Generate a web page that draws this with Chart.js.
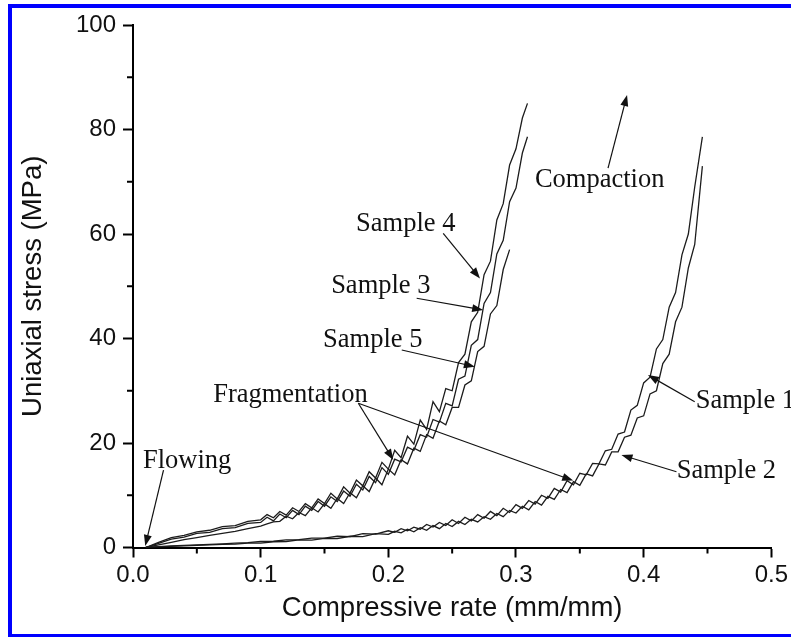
<!DOCTYPE html>
<html>
<head>
<meta charset="utf-8">
<script src="https://cdn.jsdelivr.net/npm/chart.js@4.4.0/dist/chart.umd.min.js"></script>
<style>
  html, body { margin: 0; padding: 0; background: #fff; overflow: hidden; }
  canvas { display: block; }
</style>
</head>
<body>
<canvas id="myChart" width="791" height="637"></canvas>
<script>
// strain values (mm/mm) for the left group of curves (samples 3, 4, 5)
const leftX = [
  0.01, 0.02, 0.03, 0.04, 0.05, 0.06, 0.07, 0.08, 0.09, 0.10,
  0.105, 0.11, 0.115, 0.12, 0.125, 0.13, 0.135, 0.14, 0.145, 0.15,
  0.155, 0.16, 0.165, 0.17, 0.175, 0.18, 0.185, 0.19, 0.195, 0.20,
  0.205, 0.21, 0.215, 0.22, 0.225, 0.23, 0.235, 0.24, 0.245, 0.25,
  0.255, 0.26, 0.265, 0.27, 0.275, 0.28, 0.285, 0.29, 0.295, 0.30,
  0.305, 0.309
];
const sample4 = [
  0, 1.0, 1.9, 2.3, 3.0, 3.3, 4.0, 4.2, 5.0, 5.3,
  6.3, 5.7, 6.9, 6.2, 7.6, 6.9, 8.4, 7.6, 9.3, 8.4,
  10.4, 9.3, 11.6, 10.4, 12.9, 11.8, 14.5, 13.3, 16.3, 15.0,
  18.6, 17.2, 21.3, 19.8, 24.4, 22.6, 27.9, 26.0, 30.4, 30.0,
  35.4, 37.0, 43.2, 45.0, 52.2, 54.8, 62.7, 65.8, 73.2, 76.3,
  82.2, 85.0
];
const sample3 = [
  0, 0.8, 1.6, 2.0, 2.7, 2.9, 3.6, 3.8, 4.6, 4.8,
  5.8, 5.1, 6.4, 5.7, 7.1, 6.3, 7.9, 7.1, 8.8, 7.9,
  9.7, 8.8, 10.8, 9.8, 12.1, 11.0, 13.6, 12.4, 15.3, 14.0,
  16.9, 16.4, 19.2, 18.6, 21.6, 21.1, 24.5, 24.0, 27.6, 27.1,
  32.2, 32.8, 38.7, 39.8, 46.7, 48.8, 56.2, 58.8, 66.2, 68.8,
  75.5, 78.6
];
const sample5 = [
  0, 0.5, 1.0, 1.5, 1.9, 2.3, 2.7, 3.1, 3.6, 4.1,
  4.5, 4.9, 5.0, 6.0, 5.5, 6.7, 6.1, 7.6, 6.8, 8.4,
  7.5, 9.4, 8.4, 10.5, 9.5, 11.8, 10.7, 13.3, 12.0, 15.0,
  13.9, 16.8, 16.0, 19.0, 18.4, 21.6, 20.9, 24.2, 23.5, 26.8,
  26.8, 31.1, 31.9, 37.5, 38.5, 44.7, 46.3, 53.2, 57.0
];

// strain values for the right group (samples 1, 2)
const rightX = [
  0.01, 0.02, 0.03, 0.04, 0.05, 0.06, 0.07, 0.08, 0.09, 0.10,
  0.11, 0.12, 0.13, 0.14, 0.15, 0.16, 0.17, 0.18, 0.19, 0.20,
  0.205, 0.21, 0.215, 0.22, 0.225, 0.23, 0.235, 0.24, 0.245, 0.25,
  0.255, 0.26, 0.265, 0.27, 0.275, 0.28, 0.285, 0.29, 0.295, 0.30,
  0.305, 0.31, 0.315, 0.32, 0.325, 0.33, 0.335, 0.34, 0.345, 0.35,
  0.355, 0.36, 0.365, 0.37, 0.375, 0.38, 0.385, 0.39, 0.395, 0.40,
  0.405, 0.41, 0.415, 0.42, 0.425, 0.43, 0.435, 0.44, 0.446
];
const sample1 = [
  0, 0.15, 0.3, 0.4, 0.5, 0.6, 0.7, 0.85, 0.95, 1.15,
  1.2, 1.45, 1.5, 1.8, 1.8, 2.15, 2.1, 2.65, 2.55, 3.2,
  2.9, 3.6, 3.2, 3.9, 3.5, 4.4, 3.9, 4.8, 4.2, 5.3,
  4.6, 5.8, 5.1, 6.3, 5.6, 6.9, 6.1, 7.5, 6.7, 8.2,
  7.5, 9.0, 8.3, 10.0, 9.4, 11.3, 10.6, 12.8, 12.0, 14.2,
  13.9, 16.1, 16.0, 18.5, 18.8, 21.7, 22.1, 26.3, 27.2, 31.5,
  32.6, 38.0, 39.8, 46.0, 48.8, 56.0, 60.0, 69.0, 78.6
];
const sample2 = [
  0, 0.1, 0.2, 0.3, 0.4, 0.5, 0.6, 0.65, 0.85, 0.85,
  1.1, 1.15, 1.45, 1.4, 1.75, 1.7, 2.15, 2.1, 2.65, 2.5,
  3.1, 2.8, 3.5, 3.0, 3.8, 3.3, 4.2, 3.6, 4.6, 4.0,
  5.0, 4.4, 5.4, 4.9, 5.9, 5.4, 6.5, 5.9, 7.1, 6.6,
  7.9, 7.2, 8.8, 8.1, 9.8, 9.2, 11.1, 10.5, 12.6, 11.9,
  14.1, 13.7, 16.0, 15.8, 18.3, 18.3, 21.1, 21.5, 24.8, 25.2,
  29.4, 30.0, 35.2, 37.0, 43.2, 46.0, 53.5, 58.0, 73.0
];

// minor tick positions
const xMinor = [0.05, 0.15, 0.25, 0.35, 0.45];
const yMinor = [10, 30, 50, 70, 90];

// annotation texts (left, baseline) and arrows, in data units
const notes = [
  { text: "Compaction", x: 0.3148, y: 69.0 },
  { text: "Sample 4", x: 0.1747, y: 60.6 },
  { text: "Sample 3", x: 0.1552, y: 48.7 },
  { text: "Sample 5", x: 0.1489, y: 38.4 },
  { text: "Fragmentation", x: 0.0628, y: 27.85 },
  { text: "Flowing", x: 0.0078, y: 15.2 },
  { text: "Sample 1", x: 0.4408, y: 26.7 },
  { text: "Sample 2", x: 0.4259, y: 13.3 }
];
const arrows = [
  [0.3721, 72.6, 0.3870, 86.6],
  [0.2430, 60.1, 0.2718, 51.5],
  [0.2222, 47.7, 0.2743, 45.45],
  [0.2105, 37.8, 0.2678, 34.6],
  [0.1765, 27.6, 0.2039, 16.75],
  [0.1765, 27.6, 0.3448, 12.8],
  [0.0239, 14.8, 0.0096, 0.3],
  [0.4400, 27.9, 0.4034, 33.0],
  [0.4257, 14.5, 0.3826, 17.7]
];

function pairs(xs, ys) {
  return ys.map((v, i) => ({ x: xs[i], y: v }));
}

function drawArrow(ctx, x1, y1, x2, y2) {
  const a = Math.atan2(y2 - y1, x2 - x1);
  const len = 11, w = 4;
  ctx.beginPath();
  ctx.moveTo(x1, y1);
  ctx.lineTo(x2 - Math.cos(a) * len * 0.7, y2 - Math.sin(a) * len * 0.7);
  ctx.stroke();
  ctx.beginPath();
  ctx.moveTo(x2, y2);
  ctx.lineTo(x2 - len * Math.cos(a) + w * Math.sin(a), y2 - len * Math.sin(a) - w * Math.cos(a));
  ctx.lineTo(x2 - len * Math.cos(a) - w * Math.sin(a), y2 - len * Math.sin(a) + w * Math.cos(a));
  ctx.closePath();
  ctx.fill();
}

const extras = {
  id: "extras",
  beforeDraw(chart) {
    const ctx = chart.ctx;
    ctx.save();
    ctx.fillStyle = "#fff";
    ctx.fillRect(0, 0, chart.width, chart.height);
    ctx.restore();
  },
  afterDraw(chart) {
    const { ctx, chartArea, scales: { x, y } } = chart;
    ctx.save();
    // minor ticks
    ctx.strokeStyle = "#000";
    ctx.lineWidth = 2;
    ctx.beginPath();
    xMinor.forEach(v => {
      const px = x.getPixelForValue(v);
      ctx.moveTo(px, chartArea.bottom);
      ctx.lineTo(px, chartArea.bottom + 6);
    });
    yMinor.forEach(v => {
      const py = y.getPixelForValue(v);
      ctx.moveTo(chartArea.left, py);
      ctx.lineTo(chartArea.left - 6, py);
    });
    ctx.stroke();

    // arrows
    ctx.lineWidth = 1.2;
    ctx.strokeStyle = "#111";
    ctx.fillStyle = "#111";
    arrows.forEach(a => {
      drawArrow(ctx, x.getPixelForValue(a[0]), y.getPixelForValue(a[1]),
        x.getPixelForValue(a[2]), y.getPixelForValue(a[3]));
    });

    // labels
    ctx.font = "26.5px 'Liberation Serif', 'Times New Roman', serif";
    ctx.textAlign = "left";
    ctx.textBaseline = "alphabetic";
    notes.forEach(n => {
      ctx.fillText(n.text, x.getPixelForValue(n.x), y.getPixelForValue(n.y));
    });

    // blue frame
    ctx.strokeStyle = "#0000ff";
    ctx.lineWidth = 4;
    ctx.strokeRect(10, 6, 790, 630);
    ctx.restore();
  }
};

const lineStyle = {
  showLine: true,
  pointRadius: 0,
  borderColor: "#1c1c1c",
  borderWidth: 1.3,
  tension: 0
};

Chart.defaults.font.family = "'Liberation Sans', Arial, sans-serif";
Chart.defaults.color = "#111";

const ctx = document.getElementById("myChart").getContext("2d");
new Chart(ctx, {
  type: "scatter",
  data: {
    datasets: [
      { label: "Sample 4", data: pairs(leftX, sample4), ...lineStyle },
      { label: "Sample 3", data: pairs(leftX, sample3), ...lineStyle },
      { label: "Sample 5", data: pairs(leftX, sample5), ...lineStyle },
      { label: "Sample 1", data: pairs(rightX, sample1), ...lineStyle },
      { label: "Sample 2", data: pairs(rightX, sample2), ...lineStyle }
    ]
  },
  options: {
    responsive: false,
    animation: false,
    devicePixelRatio: 1,
    layout: { padding: { left: 0, top: 25, right: 19.5, bottom: 0 } },
    plugins: { legend: { display: false }, tooltip: { enabled: false } },
    scales: {
      x: {
        type: "linear",
        min: 0,
        max: 0.5,
        afterFit: s => { s.height = 89.5; },
        ticks: {
          stepSize: 0.1,
          padding: 3,
          maxRotation: 0,
          font: { size: 24 },
          callback: v => v.toFixed(1)
        },
        grid: { drawOnChartArea: false, drawTicks: true, tickLength: 10, tickColor: "#000", tickWidth: 2 },
        border: { color: "#000", width: 2 },
        title: {
          display: true,
          text: "Compressive rate (mm/mm)",
          font: { size: 27.5 },
          padding: { top: 0, bottom: 12.5 }
        }
      },
      y: {
        min: 0,
        max: 100,
        afterFit: s => { s.width = 133; },
        ticks: {
          stepSize: 20,
          padding: 7,
          font: { size: 24 },
          callback: v => String(v)
        },
        grid: { drawOnChartArea: false, drawTicks: true, tickLength: 10, tickColor: "#000", tickWidth: 2 },
        border: { color: "#000", width: 2 },
        title: {
          display: true,
          text: "Uniaxial stress (MPa)",
          font: { size: 27.5 },
          padding: { top: 16.5, bottom: 0 }
        }
      }
    }
  },
  plugins: [extras]
});
</script>
</body>
</html>
